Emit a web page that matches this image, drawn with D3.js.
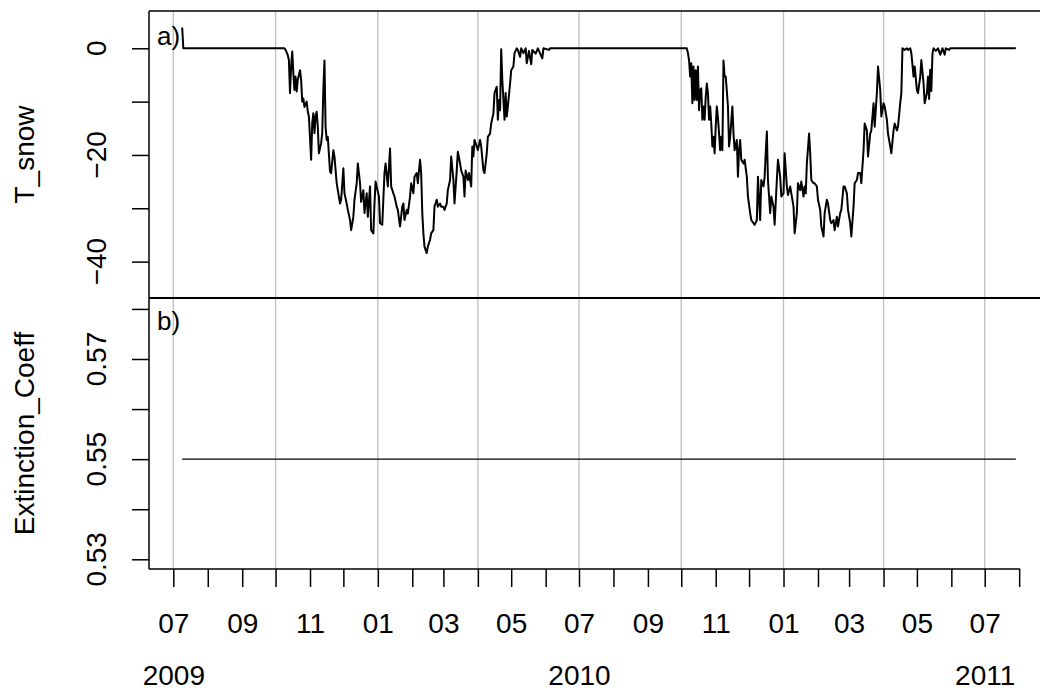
<!DOCTYPE html>
<html>
<head>
<meta charset="utf-8">
<script src="https://cdn.jsdelivr.net/npm/d3@7"></script>
<style>
  html, body { margin: 0; padding: 0; background: #fff; }
  svg { display: block; font-family: "Liberation Sans", Arial, Helvetica, sans-serif; }
</style>
</head>
<body>
<svg id="chart" width="1040" height="697"></svg>
<script>
// Snow temperature (°C), daily model output, two winters
const tsnowDates = [
  "2009-07-09","2009-07-10","2009-10-08","2009-10-09","2009-10-10","2009-10-12","2009-10-13","2009-10-14","2009-10-15","2009-10-16",
  "2009-10-17","2009-10-18","2009-10-19","2009-10-20","2009-10-21","2009-10-23","2009-10-24","2009-10-25","2009-10-26","2009-10-27",
  "2009-10-29","2009-10-30","2009-10-31","2009-11-02","2009-11-03","2009-11-04","2009-11-05","2009-11-06","2009-11-07","2009-11-08",
  "2009-11-09","2009-11-11","2009-11-12","2009-11-13","2009-11-14","2009-11-15","2009-11-16","2009-11-17","2009-11-19","2009-11-20",
  "2009-11-22","2009-11-23","2009-11-25","2009-11-26","2009-11-28","2009-11-29","2009-12-01","2009-12-02","2009-12-04","2009-12-05",
  "2009-12-07","2009-12-08","2009-12-10","2009-12-11","2009-12-13","2009-12-14","2009-12-16","2009-12-17","2009-12-19","2009-12-20",
  "2009-12-22","2009-12-23","2009-12-25","2009-12-26","2009-12-28","2009-12-29","2009-12-30","2010-01-02","2010-01-03","2010-01-05",
  "2010-01-07","2010-01-08","2010-01-10","2010-01-12","2010-01-13","2010-01-15","2010-01-16","2010-01-18","2010-01-19","2010-01-21",
  "2010-01-23","2010-01-24","2010-01-25","2010-01-27","2010-01-28","2010-01-30","2010-01-31","2010-02-02","2010-02-03","2010-02-05",
  "2010-02-06","2010-02-08","2010-02-09","2010-02-10","2010-02-11","2010-02-12","2010-02-14","2010-02-15","2010-02-17","2010-02-18",
  "2010-02-20","2010-02-21","2010-02-23","2010-02-24","2010-02-26","2010-02-27","2010-03-01","2010-03-02","2010-03-04","2010-03-05",
  "2010-03-07","2010-03-08","2010-03-10","2010-03-11","2010-03-13","2010-03-14","2010-03-16","2010-03-17","2010-03-19","2010-03-20",
  "2010-03-21","2010-03-23","2010-03-24","2010-03-26","2010-03-27","2010-03-28","2010-03-29","2010-03-31","2010-04-01","2010-04-03",
  "2010-04-04","2010-04-06","2010-04-07","2010-04-09","2010-04-10","2010-04-12","2010-04-13","2010-04-15","2010-04-16","2010-04-18",
  "2010-04-19","2010-04-20","2010-04-21","2010-04-22","2010-04-23","2010-04-25","2010-04-26","2010-04-27","2010-04-28","2010-04-30",
  "2010-05-01","2010-05-03","2010-05-04","2010-05-06","2010-05-07","2010-05-09","2010-05-10","2010-05-12","2010-05-14","2010-05-15",
  "2010-05-17","2010-05-19","2010-05-20","2010-05-23","2010-05-25","2010-05-29","2010-05-30","2010-06-04","2010-06-05","2010-10-06",
  "2010-10-07","2010-10-08","2010-10-09","2010-10-10","2010-10-11","2010-10-12","2010-10-13","2010-10-14","2010-10-15","2010-10-16",
  "2010-10-17","2010-10-18","2010-10-19","2010-10-20","2010-10-21","2010-10-22","2010-10-23","2010-10-24","2010-10-25","2010-10-26",
  "2010-10-27","2010-10-28","2010-10-29","2010-10-30","2010-10-31","2010-11-01","2010-11-02","2010-11-03","2010-11-04","2010-11-05",
  "2010-11-06","2010-11-07","2010-11-08","2010-11-09","2010-11-10","2010-11-11","2010-11-12","2010-11-13","2010-11-14","2010-11-16",
  "2010-11-17","2010-11-18","2010-11-20","2010-11-21","2010-11-22","2010-11-23","2010-11-24","2010-11-26","2010-11-27","2010-11-29",
  "2010-11-30","2010-12-02","2010-12-03","2010-12-05","2010-12-06","2010-12-08","2010-12-09","2010-12-11","2010-12-12","2010-12-14",
  "2010-12-15","2010-12-16","2010-12-17","2010-12-18","2010-12-20","2010-12-21","2010-12-23","2010-12-24","2010-12-26","2010-12-27",
  "2010-12-29","2010-12-30","2011-01-01","2011-01-02","2011-01-04","2011-01-05","2011-01-07","2011-01-08","2011-01-10","2011-01-11",
  "2011-01-13","2011-01-14","2011-01-16","2011-01-17","2011-01-19","2011-01-20","2011-01-21","2011-01-22","2011-01-24","2011-01-25",
  "2011-01-26","2011-01-28","2011-01-29","2011-01-31","2011-02-01","2011-02-03","2011-02-04","2011-02-06","2011-02-07","2011-02-09",
  "2011-02-10","2011-02-12","2011-02-13","2011-02-15","2011-02-16","2011-02-18","2011-02-19","2011-02-21","2011-02-22","2011-02-24",
  "2011-02-25","2011-02-27","2011-02-28","2011-03-02","2011-03-03","2011-03-05","2011-03-06","2011-03-08","2011-03-09","2011-03-11",
  "2011-03-12","2011-03-14","2011-03-15","2011-03-17","2011-03-18","2011-03-20","2011-03-21","2011-03-23","2011-03-24","2011-03-26",
  "2011-03-27","2011-03-29","2011-03-30","2011-04-01","2011-04-02","2011-04-04","2011-04-05","2011-04-07","2011-04-08","2011-04-10",
  "2011-04-11","2011-04-13","2011-04-14","2011-04-16","2011-04-17","2011-04-18","2011-04-20","2011-04-22","2011-04-23","2011-04-25",
  "2011-04-26","2011-04-28","2011-04-29","2011-05-01","2011-05-02","2011-05-04","2011-05-05","2011-05-07","2011-05-08","2011-05-10",
  "2011-05-11","2011-05-12","2011-05-13","2011-05-14","2011-05-15","2011-05-16","2011-05-18","2011-05-20","2011-05-22","2011-05-24",
  "2011-05-26","2011-05-27","2011-05-30","2011-05-31","2011-07-29"
];
const tsnowValues = [
  3.9, 0, 0, 0, -0.3, -1.3, -2.2, -8.4, -3.4, -0.6,
  -4.7, -7.8, -5.3, -8.1, -5.9, -4.1, -5.9, -10, -9.4, -11,
  -10, -11.9, -12.8, -20.9, -14, -12.2, -15.9, -12.8, -11.9, -14.7,
  -19.7, -17.8, -15.9, -7.8, -2.3, -14.7, -17.2, -16.6, -23.1, -23.4,
  -19.1, -20.3, -25.3, -26.6, -29.1, -28.4, -22.5, -27.2, -29.1, -30.3,
  -32.2, -34.1, -31.6, -28.4, -25.3, -21.6, -25.3, -28.8, -26.6, -30.9,
  -27.2, -31.6, -25.9, -34.1, -34.7, -29.1, -25, -27.8, -32.8, -33.1,
  -23.4, -21.6, -25.9, -18.8, -25.9, -27.2, -27.8, -29.7, -30.3, -33.4,
  -29.7, -29.1, -32.2, -30.3, -31, -27.8, -25.3, -27.2, -24.1, -23.4,
  -25.3, -20.9, -23.4, -30.9, -34.7, -37.2, -38.4, -37.2, -35.9, -34.7,
  -34.1, -29.7, -28.4, -29.7, -29.1, -29.7, -29.7, -30.3, -29.1, -26.6,
  -24.7, -20.3, -24.7, -29.1, -22.9, -19.4, -21.6, -22.9, -24.1, -27.8,
  -22.9, -24.7, -23.4, -25.9, -18.4, -20.3, -17.2, -18.4, -19.1, -17.2,
  -18.4, -22.9, -23.4, -19.7, -16.6, -16, -14.1, -12.2, -8.4, -7.2,
  -13.4, -9.7, -11.6, -0.2, -5.9, -13.4, -8.4, -12.8, -10.9, -6.6,
  -4.1, -3.4, -0.9, 0, -0.3, -1.6, 0, -0.9, 0, -2.8,
  -0.5, -3.0, -0.3, -1.0, 0, -1.9, 0, -0.3, 0, 0,
  -0.9, -2.2, -5.3, -2.8, -10.3, -3.4, -9.7, -4.1, -9.7, -3.4,
  -11.6, -7.8, -7.5, -13.4, -10.9, -13.4, -9.1, -6.6, -8.4, -13.4,
  -10.9, -14.1, -18.4, -16.6, -19.7, -14.7, -10.9, -13, -16, -19.1,
  -16.6, -19.1, -2.3, -5.3, -5.3, -8, -10.9, -18.4, -16.6, -10.9,
  -16, -19.1, -17.2, -24.1, -19.1, -17.2, -20.9, -21.6, -20.9, -24.1,
  -27.8, -30.9, -32.2, -32.8, -33.1, -32.2, -24.1, -32.2, -24.7, -25.9,
  -24.1, -19.7, -15.6, -24.7, -30.9, -27.8, -29.7, -33.1, -24.7, -20.9,
  -24.1, -27.8, -27.2, -19.7, -25.9, -27.5, -25.9, -27.2, -29.7, -34.7,
  -30.9, -25.3, -26.6, -25, -27.8, -25.9, -27.2, -21.6, -16, -19.7,
  -24.7, -25.3, -25.3, -25.9, -28.4, -30.3, -33.4, -35.3, -30.9, -28.4,
  -29.1, -32.2, -32.8, -32.2, -34.1, -31.6, -33.4, -30.9, -30.3, -25.9,
  -25.9, -27.2, -30.3, -32.8, -35.3, -29.7, -25.3, -24.7, -23.4, -23.4,
  -25.3, -19.1, -14.1, -15.4, -20.3, -16, -15.4, -10.3, -14.7, -8.4,
  -3.4, -7.8, -12.8, -10.3, -10.9, -13.4, -16, -18.4, -19.7, -15.4,
  -14.1, -15.4, -14.7, -10.3, -8.4, 0, -0.3, 0, -0.3, 0,
  -0.9, -5.3, -3.4, -7.8, -8.4, -5.3, -2.2, -6.6, -10.3, -8.4,
  -5.3, -9.5, -4, -8, -1, 0, -0.5, 0, -1.2, 0,
  -1.2, 0, -0.3, 0, 0
];

// Light extinction coefficient, constant over the run
const extDates = ["2009-07-09", "2011-07-29"];
const extValues = [0.55, 0.55];

// Axis ticks and labels
const tsnowTicks = [0, -10, -20, -30, -40];
const tsnowLabelled = [0, -20, -40];
const extTicks = [0.53, 0.54, 0.55, 0.56, 0.57, 0.58];
const extLabelled = [0.53, 0.55, 0.57];
const gridDates = ["2009-07-01","2009-10-01","2010-01-01","2010-04-01","2010-07-01","2010-10-01","2011-01-01","2011-04-01","2011-07-01"];
const yearLabels = ["2009", "2010", "2011"];
const tickStart = "2009-07-01", tickEnd = "2011-08-01";

const parse = d3.utcParse("%Y-%m-%d");
const pLeft = 149, pRight = 1040, pTop = 11, pMid = 298, pBottom = 569;
const FS = 28;

const svg = d3.select("#chart");

const x = d3.scaleUtc()
  .domain([parse("2009-07-01"), parse("2011-07-01")])
  .range([173.3, 984.7]);
const yT = d3.scaleLinear().domain([0, -40]).range([48.3, 261.6]);
const yE = d3.scaleLinear().domain([0.53, 0.57]).range([559.3, 359.0]);

const defs = svg.append("defs");
defs.append("clipPath").attr("id", "clipTop")
  .append("rect").attr("x", pLeft).attr("y", pTop).attr("width", pRight - pLeft).attr("height", pMid - pTop);
defs.append("clipPath").attr("id", "clipBot")
  .append("rect").attr("x", pLeft).attr("y", pMid).attr("width", pRight - pLeft).attr("height", pBottom - pMid);

// vertical grid at quarter starts, spanning both panels
svg.append("g").selectAll("line")
  .data(gridDates.map(parse))
  .join("line")
  .attr("x1", d => x(d)).attr("x2", d => x(d))
  .attr("y1", pTop).attr("y2", pBottom)
  .attr("stroke", "#bebebe").attr("stroke-width", 1.3);

// T_snow series
const tsnow = tsnowDates.map((d, i) => ({ date: parse(d), value: tsnowValues[i] }));
svg.append("path")
  .datum(tsnow)
  .attr("clip-path", "url(#clipTop)")
  .attr("fill", "none").attr("stroke", "#000").attr("stroke-width", 2)
  .attr("stroke-linejoin", "round")
  .attr("d", d3.line().x(d => x(d.date)).y(d => yT(d.value)));

// Extinction coefficient series
const ext = extDates.map((d, i) => ({ date: parse(d), value: extValues[i] }));
svg.append("path")
  .datum(ext)
  .attr("clip-path", "url(#clipBot)")
  .attr("fill", "none").attr("stroke", "#000").attr("stroke-width", 1.3)
  .attr("d", d3.line().x(d => x(d.date)).y(d => yE(d.value)));

// panel frames
const frame = svg.append("g").attr("stroke", "#000").attr("fill", "none");
frame.append("line").attr("x1", pLeft).attr("x2", pRight).attr("y1", pTop).attr("y2", pTop).attr("stroke-width", 1.5);
frame.append("line").attr("x1", pLeft).attr("x2", pRight).attr("y1", pMid).attr("y2", pMid).attr("stroke-width", 2);
frame.append("line").attr("x1", pLeft).attr("x2", pLeft).attr("y1", pTop).attr("y2", pBottom).attr("stroke-width", 1.5);
frame.append("line").attr("x1", pLeft).attr("x2", x(parse(tickEnd)) + 1).attr("y1", pBottom).attr("y2", pBottom).attr("stroke-width", 1.5);

// y axes (ticks only; labels are drawn rotated below)
function yAxis(scale, ticks) {
  return d3.axisLeft(scale).tickValues(ticks).tickSize(17).tickFormat("");
}
const gyT = svg.append("g").attr("transform", `translate(${pLeft},0)`).call(yAxis(yT, tsnowTicks));
const gyE = svg.append("g").attr("transform", `translate(${pLeft},0)`).call(yAxis(yE, extTicks));
[gyT, gyE].forEach(g => {
  g.select(".domain").remove();
  g.selectAll(".tick line").attr("stroke", "#000").attr("stroke-width", 1.5);
});

const fmtT = d3.format("d"), fmtE = d3.format(".2f");
function rotLabel(xPos, yPos, txt) {
  svg.append("text")
    .attr("transform", `translate(${xPos},${yPos}) rotate(-90)`)
    .attr("text-anchor", "middle")
    .attr("font-size", FS).attr("fill", "#000")
    .text(txt);
}
tsnowLabelled.forEach(v => rotLabel(106, yT(v), fmtT(v)));
extLabelled.forEach(v => rotLabel(106, yE(v), fmtE(v)));
rotLabel(33.5, (pTop + pMid) / 2, "T_snow");
rotLabel(33.5, (pMid + pBottom) / 2, "Extinction_Coeff");

// x axis: monthly ticks, odd months labelled
const months = d3.utcMonth.range(parse(tickStart), d3.utcDay.offset(parse(tickEnd), 1));
const gx = svg.append("g").attr("transform", `translate(0,${pBottom})`)
  .call(d3.axisBottom(x).tickValues(months).tickSize(18).tickPadding(26)
    .tickFormat(d => (d.getUTCMonth() % 2 === 0) ? d3.utcFormat("%m")(d) : ""));
gx.select(".domain").remove();
gx.selectAll(".tick line").attr("stroke", "#000").attr("stroke-width", 1.5);
gx.selectAll(".tick text").attr("font-size", FS).attr("font-family", null).attr("fill", "#000");

// year labels under July of each year
const gyr = svg.append("g").attr("transform", `translate(0,${pBottom})`)
  .call(d3.axisBottom(x).tickValues(yearLabels.map(y => parse(y + "-07-01"))).tickSize(0).tickPadding(96)
    .tickFormat(d3.utcFormat("%Y")));
gyr.select(".domain").remove();
gyr.selectAll(".tick text").attr("font-size", FS).attr("font-family", null).attr("fill", "#000");

// panel tags
svg.append("text").attr("x", 157).attr("y", 45).attr("font-size", FS - 2).text("a)");
svg.append("text").attr("x", 157).attr("y", 330).attr("font-size", FS - 2).text("b)");
</script>
</body>
</html>
